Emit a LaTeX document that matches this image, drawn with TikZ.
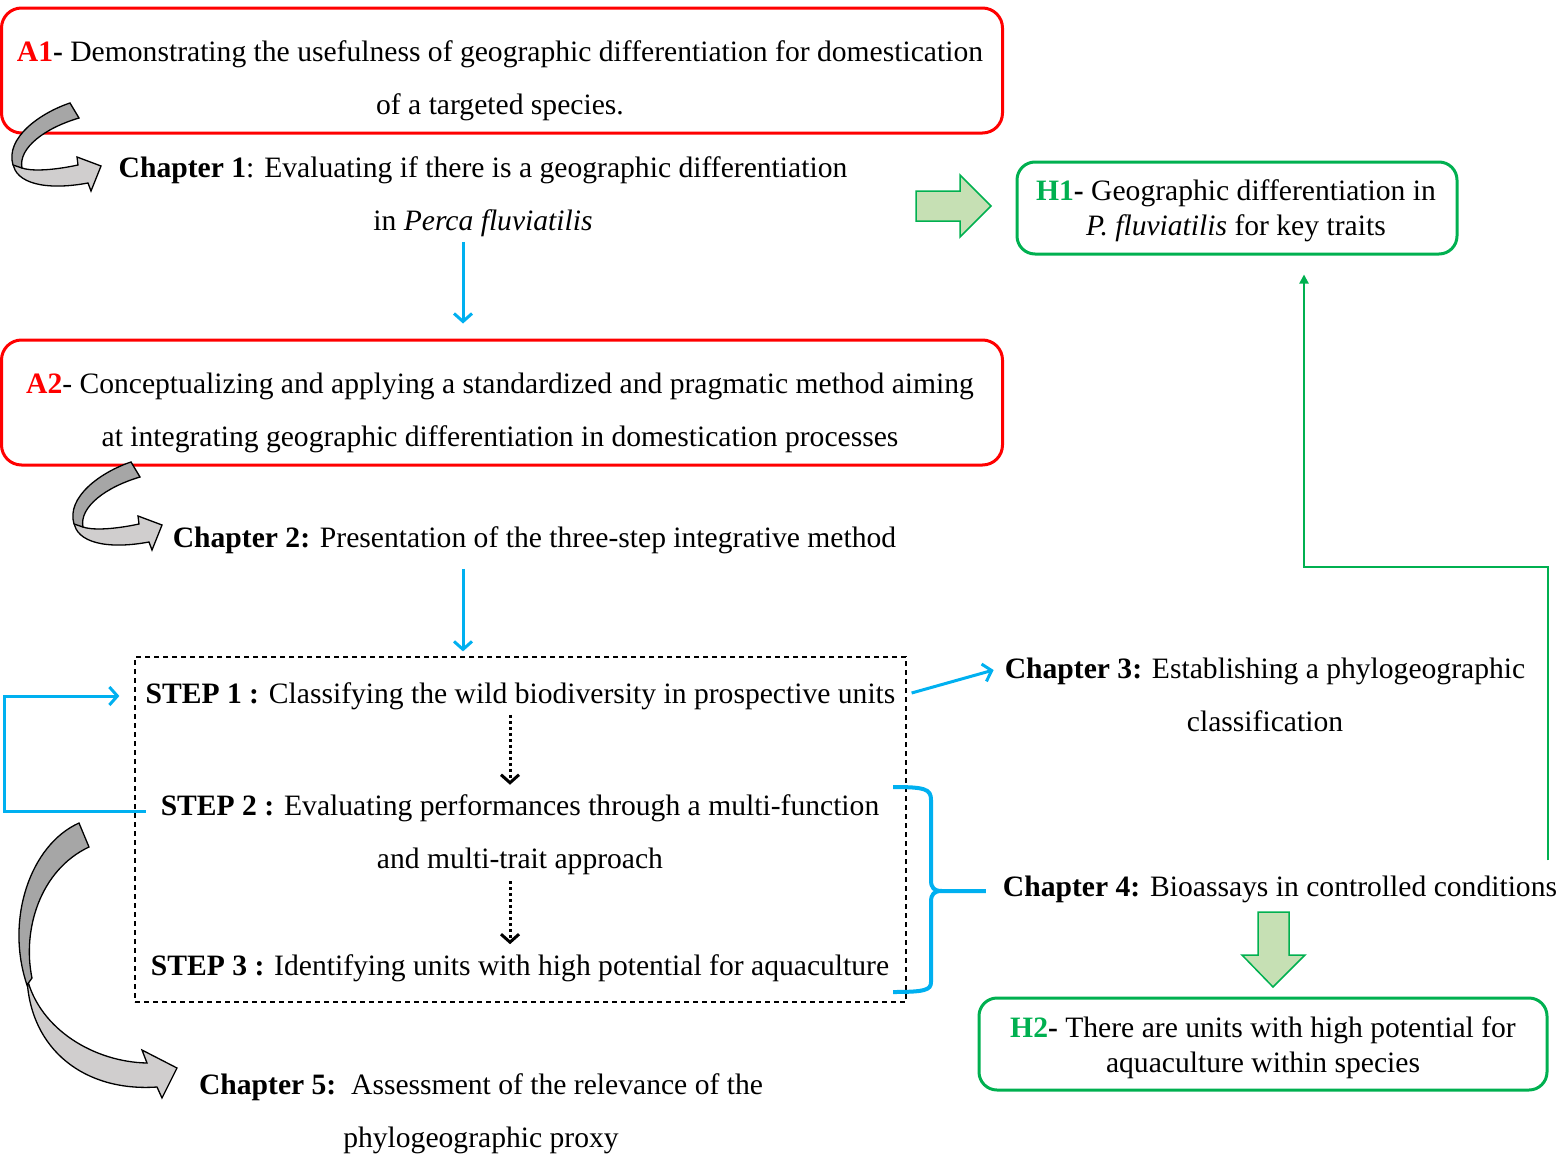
\documentclass[tikz,border=0pt]{standalone}
\usepackage{fontspec}
\setmainfont{Liberation Serif}
\usetikzlibrary{arrows.meta}

\definecolor{redA}{HTML}{FF0000}
\definecolor{blueC}{HTML}{00B0F0}
\definecolor{greenH}{HTML}{00B050}
\definecolor{greenfill}{HTML}{C6E0B4}
\definecolor{darkfold}{HTML}{A6A6A6}
\definecolor{lightfold}{HTML}{D0CECE}

\tikzset{
  txt/.style={font=\fontsize{29.6}{53}\selectfont, align=center, inner sep=0pt, yshift=-3pt},
  htxt/.style={font=\fontsize{29.6}{35}\selectfont, align=center, inner sep=0pt, yshift=-3pt},
  redbox/.style={draw=redA, line width=3pt, rounded corners=20pt},
  greenbox/.style={draw=greenH, line width=3pt, rounded corners=18pt},
  stepsframe/.style={draw, line width=1.2pt, dash pattern=on 5pt off 4pt},
  bluearrow/.style={draw=blueC, line width=3pt, -{Straight Barb[length=8pt,width=18pt]}},
  dotarrow/.style={line width=3pt, dash pattern=on 3pt off 3pt, -{Straight Barb[length=8pt,width=18pt]}},
  greenline/.style={draw=greenH, line width=2pt, -{Triangle[length=9pt,width=9pt]}},
  blockarrow/.style={draw=greenH, line width=1.5pt, fill=greenfill},
  twistarrow/.pic={
    \filldraw[fill=lightfold, line width=1.3pt] (-57,60) .. controls (-55,80) and (-25,88) .. (18,80)
      -- (21,88) -- (31,63) -- (7,54) -- (8,62) .. controls (-20,68) and (-40,68) .. (-48,65) -- cycle;
    \filldraw[fill=darkfold, line width=1.3pt] (0,0) .. controls (-30,10) and (-65,35) .. (-57,62)
      -- (-48,65) .. controls (-52,45) and (-25,25) .. (9,15) -- cycle;
  }
}

\begin{document}
\begin{tikzpicture}[x=1pt, y=-1pt]
  \useasboundingbox (0,0) rectangle (1561,1154);

  % aims
  \node[redbox, minimum width=1001pt, minimum height=125pt] (a1box) at (502,70.5) {};
  \node[redbox, minimum width=1001pt, minimum height=125pt] (a2box) at (502,402.5) {};
  \node[txt] (a1) at (500,77.5) {\textbf{\textcolor{redA}{A1}-} Demonstrating the usefulness of geographic differentiation for domestication\\ of a targeted species.};
  \node[txt] (a2) at (500,409.5) {\textbf{\textcolor{redA}{A2}}- Conceptualizing and applying a standardized and pragmatic method aiming\\ at integrating geographic differentiation in domestication processes};

  % chapters
  \node[txt] (ch1) at (483,193.5) {\textbf{Chapter 1}: Evaluating if there is a geographic differentiation\\ in \textit{Perca fluviatilis}};
  \node[txt] (ch2) at (534.5,537) {\textbf{Chapter 2:} Presentation of the three-step integrative method};
  \node[txt] (ch3) at (1265,692) {\textbf{Chapter 3:} Establishing a phylogeographic\\ classification};
  \node[txt] (ch4) at (1280,886) {\textbf{Chapter 4:} Bioassays in controlled conditions};
  \node[txt] (ch5) at (481,1110.5) {\textbf{Chapter 5:}\ \ Assessment of the relevance of the\\ phylogeographic proxy};

  % the three steps
  \node[stepsframe, minimum width=771pt, minimum height=345pt] (steps) at (520.5,829.5) {};
  \node[txt] (step1) at (520.5,693) {\textbf{STEP 1 :} Classifying the wild biodiversity in prospective units};
  \node[txt] (step2) at (520,832) {\textbf{STEP 2 :} Evaluating performances through a multi-function\\ and multi-trait approach};
  \node[txt] (step3) at (520,965) {\textbf{STEP 3 :} Identifying units with high potential for aquaculture};

  % hypotheses
  \node[greenbox, minimum width=440pt, minimum height=92pt] (h1box) at (1237,208) {};
  \node[greenbox, minimum width=568pt, minimum height=92pt] (h2box) at (1263,1044) {};
  \node[htxt] (h1) at (1236,208) {\textbf{\textcolor{greenH}{H1}-} Geographic differentiation in\\ \textit{P. fluviatilis} for key traits};
  \node[htxt] (h2) at (1263,1044.5) {\textbf{\textcolor{greenH}{H2}-} There are units with high potential for\\ aquaculture within species};

  % twisted gray arrows
  \pic at (70,103) {twistarrow};
  \pic at (131,462) {twistarrow};
  \filldraw[fill=lightfold, line width=1.3pt] (27,978) .. controls (40,1030) and (95,1062) .. (147,1063)
    -- (142,1050) -- (177,1068) -- (162,1098) -- (157,1087) .. controls (85,1092) and (30,1050) .. (27,978) -- cycle;
  \filldraw[fill=darkfold, line width=1.3pt] (79,823) .. controls (30,845) and (5,920) .. (27,985)
    -- (32,978) .. controls (22,930) and (40,870) .. (89,847) -- cycle;

  % blue connectors
  \coordinate (cx) at (463,0);
  \coordinate (dx) at (510,0);
  \draw[bluearrow] ([yshift=-5pt]ch1.south -| cx) -- ([yshift=15pt]a2box.north -| cx);
  \draw[bluearrow] ([yshift=-15pt]ch2.south -| cx) -- ([yshift=5pt]steps.north -| cx);
  \draw[bluearrow] ([xshift=-15pt,yshift=24pt]step2.west) -- ++(-141,0) |- ([xshift=-26pt]step1.west);
  \draw[bluearrow] ([xshift=16pt,yshift=3pt]step1.east) -- ([xshift=-11pt,yshift=25pt]ch3.west);
  \draw[blueC, line width=4pt] (893,787) .. controls (925,787) and (931,789) .. (931,800) -- (931,880)
    .. controls (931,888) and (934,891) .. (942,891) -- ([xshift=-17pt,yshift=-2pt]ch4.west)
    (942,891) .. controls (934,891) and (931,894) .. (931,902) -- (931,982)
    .. controls (931,990) and (925,992) .. (893,992);

  % dotted steps
  \draw[dotarrow] ([yshift=-5pt]step1.south -| dx) -- ([yshift=10pt]step2.north -| dx);
  \draw[dotarrow] ([yshift=-6pt]step2.south -| dx) -- ([yshift=10pt]step3.north -| dx);

  % green connectors
  \coordinate (hx) at (1304,567);
  \draw[greenline] ([xshift=-9pt,yshift=15pt]ch4.north east) |- (hx) -- ([yshift=-19pt]h1box.south -| hx);
  \filldraw[blockarrow] (916,191) -- (960,191) -- (960,175) -- (991,206) -- (960,237) -- (960,221) -- (916,221) -- cycle;
  \filldraw[blockarrow] (1258,912) -- (1289,912) -- (1289,955) -- (1305,955) -- (1273,987) -- (1242,955) -- (1258,955) -- cycle;
\end{tikzpicture}
\end{document}
